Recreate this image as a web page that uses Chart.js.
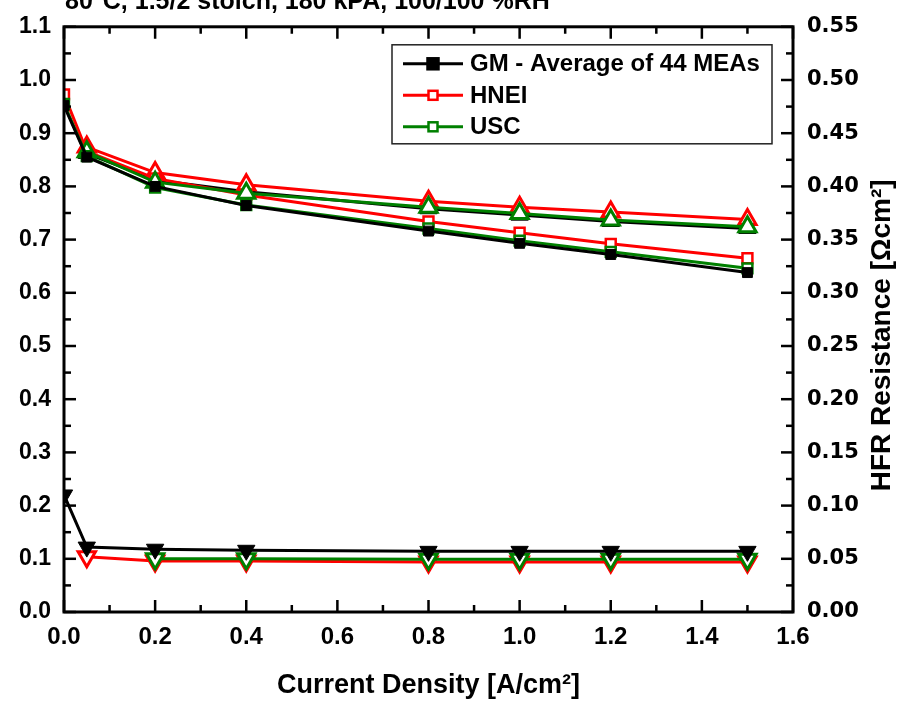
<!DOCTYPE html>
<html>
<head>
<meta charset="utf-8">
<script src="https://cdn.jsdelivr.net/npm/chart.js@4.4.1/dist/chart.umd.min.js"></script>
<style>
body { margin: 0; background: #fff; }
#wrap { position: relative; width: 902px; height: 702px; overflow: hidden; }
#polChart { position: absolute; left: 0; top: 0; }
#cond { position: absolute; left: 65px; top: -12px; font: bold 25px "Liberation Sans", Arial, sans-serif; line-height: 25px; white-space: nowrap; color: #000; }
</style>
</head>
<body>
<div id="wrap">
  <canvas id="polChart" width="902" height="702"></canvas>
  <div id="cond">80°C, 1.5/2 stoich, 180 kPA, 100/100 %RH</div>
</div>
<script>
// current density [A/cm2]
const currentDensity = [0, 0.05, 0.2, 0.4, 0.8, 1.0, 1.2, 1.5];
const irFreeDensity = [0.05, 0.2, 0.4, 0.8, 1.0, 1.2, 1.5];
const hneiHfrDensity = [0.05, 0.2, 0.4, 0.8, 1.0, 1.2, 1.5];
const uscHfrDensity = [0.2, 0.4, 0.8, 1.0, 1.2, 1.5];

// cell voltage [V] (squares)
const gmVoltage = [0.952, 0.855, 0.800, 0.764, 0.716, 0.693, 0.672, 0.638];
const hneiVoltage = [0.973, 0.866, 0.815, 0.784, 0.734, 0.713, 0.692, 0.665];
const uscVoltage = [0.955, 0.857, 0.798, 0.765, 0.721, 0.698, 0.677, 0.646];

// iR-free voltage [V] (up triangles)
const gmIrFree = [0.862, 0.812, 0.790, 0.758, 0.746, 0.734, 0.721];
const hneiIrFree = [0.874, 0.826, 0.803, 0.772, 0.761, 0.752, 0.738];
const uscIrFree = [0.865, 0.808, 0.787, 0.761, 0.749, 0.737, 0.724];

// HFR [Ohm cm2] (down triangles, right axis)
const gmHfr = [0.110, 0.061, 0.059, 0.058, 0.057, 0.057, 0.057, 0.057];
const hneiHfr = [0.052, 0.048, 0.048, 0.047, 0.047, 0.047, 0.047];
const uscHfr = [0.050, 0.050, 0.0495, 0.0495, 0.0495, 0.0495];

// tick values
const xTickValues = [0, 0.2, 0.4, 0.6, 0.8, 1.0, 1.2, 1.4, 1.6];
const yTickValues = [0, 0.1, 0.2, 0.3, 0.4, 0.5, 0.6, 0.7, 0.8, 0.9, 1.0, 1.1];
const y1TickValues = [0, 0.05, 0.1, 0.15, 0.2, 0.25, 0.3, 0.35, 0.4, 0.45, 0.5, 0.55];

const pts = (xs, ys) => xs.map((x, i) => ({ x: x, y: ys[i] }));
const fontArial = '"Liberation Sans", Arial, sans-serif';

function squareSet(label, xs, ys, color, filled, order) {
    return {
        label: label, inLegend: true, data: pts(xs, ys), yAxisID: 'y', order: order,
        borderColor: color, borderWidth: 3,
        pointStyle: 'rect', pointRadius: 7, pointBorderWidth: filled ? 1 : 2.5,
        pointBackgroundColor: filled ? color : '#fff', pointBorderColor: color
    };
}
function triSet(label, xs, ys, color, filled, axis, rot, order) {
    return {
        label: label, data: pts(xs, ys), yAxisID: axis, order: order,
        borderColor: color, borderWidth: 3,
        pointStyle: 'triangle', pointRotation: rot, pointRadius: 10, pointBorderWidth: filled ? 1 : 3,
        pointBackgroundColor: filled ? color : '#fff', pointBorderColor: color
    };
}

// inward ticks on all four sides plus the frame
const frameTicks = {
    id: 'frameTicks',
    afterDatasetsDraw(chart) {
        const { ctx, chartArea: a, scales } = chart;
        ctx.save();
        ctx.strokeStyle = '#000';
        ctx.lineWidth = 2.5;
        for (let i = 0; i <= 16; i++) {
            const px = scales.x.getPixelForValue(i * 0.1);
            const len = i % 2 === 0 ? 12 : 7;
            ctx.beginPath();
            ctx.moveTo(px, a.bottom); ctx.lineTo(px, a.bottom - len);
            ctx.moveTo(px, a.top); ctx.lineTo(px, a.top + len);
            ctx.stroke();
        }
        for (let i = 0; i <= 22; i++) {
            const py = scales.y.getPixelForValue(i * 0.05);
            const len = i % 2 === 0 ? 12 : 7;
            ctx.beginPath();
            ctx.moveTo(a.left, py); ctx.lineTo(a.left + len, py);
            ctx.stroke();
        }
        for (let i = 0; i <= 22; i++) {
            const py = scales.y1.getPixelForValue(i * 0.025);
            const len = i % 2 === 0 ? 12 : 7;
            ctx.beginPath();
            ctx.moveTo(a.right, py); ctx.lineTo(a.right - len, py);
            ctx.stroke();
        }
        ctx.lineWidth = 3;
        ctx.strokeRect(a.left, a.top, a.right - a.left, a.bottom - a.top);

        // right axis title, reading bottom to top
        ctx.fillStyle = '#000';
        ctx.font = 'bold 28px ' + fontArial;
        ctx.textAlign = 'center';
        ctx.textBaseline = 'middle';
        ctx.translate(a.right + 89, (a.top + a.bottom) / 2 + 16);
        ctx.rotate(-Math.PI / 2);
        ctx.fillText('HFR Resistance [Ωcm²]', 0, 0);
        ctx.restore();
    }
};

// legend box in the upper right of the plot
const boxLegend = {
    id: 'boxLegend',
    afterDraw(chart) {
        const { ctx, chartArea: a } = chart;
        const left = a.right - 401, top = a.top + 18, w = 380, h = 99;
        ctx.save();
        ctx.fillStyle = '#fff';
        ctx.fillRect(left, top, w, h);
        ctx.strokeStyle = '#222';
        ctx.lineWidth = 1.5;
        ctx.strokeRect(left, top, w, h);
        const items = chart.data.datasets.filter(d => d.inLegend);
        const order = ['GM - Average of 44 MEAs', 'HNEI', 'USC'];
        items.sort((p, q) => order.indexOf(p.label) - order.indexOf(q.label));
        items.forEach((d, i) => {
            const y = top + 19 + i * 31.5;
            ctx.strokeStyle = d.borderColor;
            ctx.lineWidth = 3;
            ctx.beginPath();
            ctx.moveTo(left + 11, y); ctx.lineTo(left + 71, y);
            ctx.stroke();
            const s = d.pointBackgroundColor === '#fff' ? 9 : 11;
            ctx.fillStyle = d.pointBackgroundColor;
            ctx.fillRect(left + 41 - s / 2, y - s / 2, s, s);
            ctx.lineWidth = 2.5;
            ctx.strokeRect(left + 41 - s / 2, y - s / 2, s, s);
            ctx.fillStyle = '#000';
            ctx.font = 'bold 24px ' + fontArial;
            ctx.textAlign = 'left';
            ctx.textBaseline = 'middle';
            ctx.fillText(d.label, left + 78, y + 1);
        });
        ctx.restore();
    }
};

// higher order is drawn first (underneath)
const chart = new Chart(document.getElementById('polChart').getContext('2d'), {
    type: 'line',
    data: {
        datasets: [
            squareSet('GM - Average of 44 MEAs', currentDensity, gmVoltage, '#000', true, 1),
            triSet('GM iR-free', irFreeDensity, gmIrFree, '#000', true, 'y', 0, 9),
            triSet('GM HFR', currentDensity, gmHfr, '#000', true, 'y1', 180, 1),
            squareSet('USC', currentDensity, uscVoltage, '#008000', false, 2),
            triSet('USC iR-free', irFreeDensity, uscIrFree, '#008000', false, 'y', 0, 2),
            triSet('USC HFR', uscHfrDensity, uscHfr, '#008000', false, 'y1', 180, 2),
            squareSet('HNEI', currentDensity, hneiVoltage, '#ff0000', false, 3),
            triSet('HNEI iR-free', irFreeDensity, hneiIrFree, '#ff0000', false, 'y', 0, 3),
            triSet('HNEI HFR', hneiHfrDensity, hneiHfr, '#ff0000', false, 'y1', 180, 3)
        ]
    },
    options: {
        responsive: false,
        animation: false,
        layout: { padding: { top: 24, left: 0, right: 0, bottom: 0 } },
        elements: { line: { tension: 0 } },
        plugins: {
            legend: { display: false },
            tooltip: { enabled: false }
        },
        scales: {
            x: {
                type: 'linear', min: 0, max: 1.6,
                afterBuildTicks: s => { s.ticks = xTickValues.map(v => ({ value: v })); },
                afterFit: s => { s.height = 90; },
                grid: { display: false, drawTicks: false },
                border: { display: false },
                ticks: {
                    padding: 11, color: '#000',
                    font: { family: fontArial, size: 24, weight: 'bold' },
                    callback: v => v.toFixed(1)
                },
                title: {
                    display: true, text: 'Current Density [A/cm²]', color: '#000',
                    font: { family: fontArial, size: 27, weight: 'bold' },
                    padding: { top: 0, bottom: 0 }
                }
            },
            y: {
                position: 'left', min: 0, max: 1.1,
                afterBuildTicks: s => { s.ticks = yTickValues.map(v => ({ value: v })); },
                afterFit: s => { s.width = 64; },
                grid: { display: false, drawTicks: false },
                border: { display: false },
                ticks: {
                    padding: 13, color: '#000',
                    font: { family: fontArial, size: 23, weight: 'bold' },
                    callback: v => v.toFixed(1)
                }
            },
            y1: {
                position: 'right', min: 0, max: 0.55,
                afterBuildTicks: s => { s.ticks = y1TickValues.map(v => ({ value: v })); },
                afterFit: s => { s.width = 109; },
                grid: { display: false, drawTicks: false },
                border: { display: false },
                ticks: {
                    padding: 14, color: '#000',
                    font: { family: '"DejaVu Sans", sans-serif', size: 21, weight: 'bold' },
                    callback: v => v.toFixed(2)
                }
            }
        }
    },
    plugins: [frameTicks, boxLegend]
});
</script>
</body>
</html>
